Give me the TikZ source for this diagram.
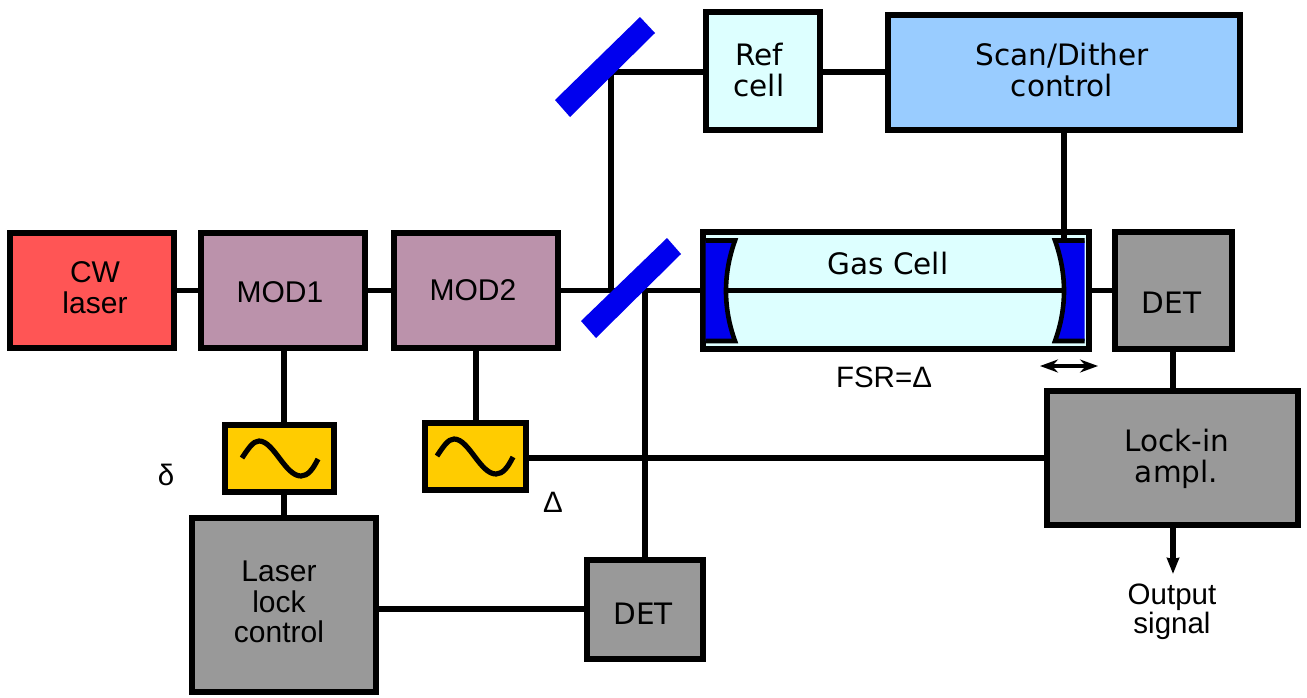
\documentclass[tikz,border=0pt]{standalone}
\usepackage{fontspec}
\setmainfont{DejaVu Sans}
\newfontfamily\arialf{Liberation Sans}
\usetikzlibrary{arrows.meta}
\definecolor{lasercol}{HTML}{FF5555}
\definecolor{modcol}{HTML}{BB92AB}
\definecolor{oscol}{HTML}{FFCC00}
\definecolor{grycol}{HTML}{999999}
\definecolor{refcol}{HTML}{DDFFFF}
\definecolor{scancol}{HTML}{99CCFF}
\definecolor{mircol}{HTML}{0000EE}
\newcommand{\off}[3]{\hspace*{#1pt}\raisebox{\dimexpr #2pt-7.4pt\relax}[0pt][0pt]{\begin{tabular}{@{}c@{}}#3\end{tabular}}}
\tikzset{
 x=1pt,y=-1pt,
 pbox/.style={draw=black,line width=6.8pt,inner sep=0pt,outer sep=0pt,align=center,font=\fontsize{29.5}{29.5}\selectfont,anchor=north west},
 abox/.style={pbox,font=\arialf\fontsize{30}{29.5}\selectfont},
 wire/.style={draw=black,line width=5.4pt},
 lab/.style={inner sep=0pt,align=center,font=\arialf\fontsize{29.5}{29}\selectfont},
 mirror/.style={fill=mircol,draw=none},
 sine/.style={draw=black,line width=5.2pt},
 lensline/.style={black,line width=4.6pt,line join=miter,miter limit=10},
}
\begin{document}
\begin{tikzpicture}
\useasboundingbox (0,0) rectangle (1307,697);
% nodes
\node[abox,fill=lasercol,minimum width=164pt,minimum height=115pt] (laser) at (10,233) {\off{6}{0}{CW\\laser}};
\node[abox,fill=modcol,minimum width=164pt,minimum height=115pt] (mod1) at (201,233) {\off{-6}{-5}{MOD1}};
\node[abox,fill=modcol,minimum width=164pt,minimum height=115pt] (mod2) at (394,233) {\off{-6}{-3}{MOD2}};
\node[pbox,fill=refcol,minimum width=114pt,minimum height=118pt] (ref) at (706,12) {\off{-8}{-2}{Ref\\cell}};
\node[pbox,fill=scancol,minimum width=352pt,minimum height=115pt] (scan) at (888,15) {\off{-4}{-0.5}{Scan/Dither\\control}};
\node[pbox,fill=refcol,minimum width=386pt,minimum height=117pt] (gas) at (703,232) {};
\node[pbox,fill=grycol,minimum width=117pt,minimum height=117pt] (det) at (1115,232) {\off{-4}{-15}{DET}};
\node[pbox,fill=grycol,minimum width=251pt,minimum height=134pt] (lock) at (1047,391) {\off{8}{-1}{Lock-in\\ampl.}};
\node[pbox,fill=oscol,minimum width=109pt,minimum height=67pt] (osca) at (225,425) {};
\node[pbox,fill=oscol,minimum width=101pt,minimum height=67pt] (oscb) at (425,423) {};
\node[abox,fill=grycol,minimum width=184pt,minimum height=174pt] (ctrl) at (192,518) {\off{-10}{0}{Laser\\lock\\control}};
\node[pbox,fill=grycol,minimum width=116pt,minimum height=99pt] (detb) at (587,560) {\off{-4}{-7}{DET}};
% junctions
\coordinate (ja) at (611,290.5);
\coordinate (jb) at (645,290.5);
\coordinate (jc) at (611,72);
\coordinate (out) at (1173,574);
% connectors
\draw[wire] (laser.east) -- (mod1.west);
\draw[wire] (mod1.east) -- (mod2.west);
\draw[wire] (mod2.east) -- (gas.west);
\draw[wire] (ja) -- (jc) -- (ref.west |- jc);
\draw[wire] (ref.east |- jc) -- (scan.west |- jc);
\draw[wire] (gas.east) -- (det.west);
\draw[wire] (jb) -- (jb |- detb.north);
\draw[wire] (284,0 |- mod1.south) -- (284,0 |- osca.north);
\draw[wire] (284,0 |- osca.south) -- (284,0 |- ctrl.north);
\draw[wire] (476,0 |- mod2.south) -- (476,0 |- oscb.north);
\draw[wire] (oscb.east |- 0,458) -- (lock.west |- 0,458);
\draw[wire] (ctrl.east |- 0,609) -- (detb.west |- 0,609);
\draw[wire] (1173,0 |- det.south) -- (1173,0 |- lock.north);
\draw[wire,-{Stealth[length=16pt,width=12pt,inset=1pt]}] (1173,0 |- lock.south) -- (out);
% mirrors
\fill[mirror] (555,100) -- (640,17) -- (655,33) -- (570,117) -- cycle;
\fill[mirror] (581,321) -- (667,238) -- (681,254) -- (596,338) -- cycle;
% gas-cell lenses
\fill[mircol] (705.5,240.5) -- (735,240.5) .. controls (723,274) and (723,308) .. (735,341) -- (705.5,341) -- cycle;
\fill[mircol] (1084.5,240.5) -- (1055,240.5) .. controls (1067,274) and (1067,308) .. (1055,341) -- (1084.5,341) -- cycle;
\draw[lensline] (705.5,240.5) -- (735,240.5) .. controls (723,274) and (723,308) .. (735,341) -- (705.5,341);
\draw[lensline] (1084.5,240.5) -- (1055,240.5) .. controls (1067,274) and (1067,308) .. (1055,341) -- (1084.5,341);
\draw[wire] (726,290.5) -- (1064,290.5);
\draw[wire] (1064,0 |- scan.south) -- (1064,240);
\node[font=\fontsize{29.5}{30}\selectfont,inner sep=0pt] (gaslab) at (888,263) {Gas Cell};
% sines
\draw[sine] (242,458) .. controls (248,449) and (253,441) .. (259,441) .. controls (274,441) and (285,476) .. (301,476) .. controls (308,476) and (313,469) .. (318,459);
\draw[sine] (437,456) .. controls (443,447) and (448,439) .. (454,439) .. controls (469,439) and (480,474) .. (496,474) .. controls (503,474) and (508,467) .. (513,457);
% labels
\node[lab] (fsr) at (884,377) {FSR=Δ};
\node[lab] (dl) at (166,475) {δ};
\node[lab] (Dl) at (553,502) {Δ};
\node[lab,anchor=north] (outl) at (1172,584) {Output\\signal};
\coordinate (ma) at (1040,366);
\coordinate (mb) at (1098,366);
\draw[black,line width=3.2pt,{Stealth[length=18pt,width=13pt,inset=6pt]}-{Stealth[length=18pt,width=13pt,inset=6pt]}] (ma) -- (mb);
\end{tikzpicture}
\end{document}
